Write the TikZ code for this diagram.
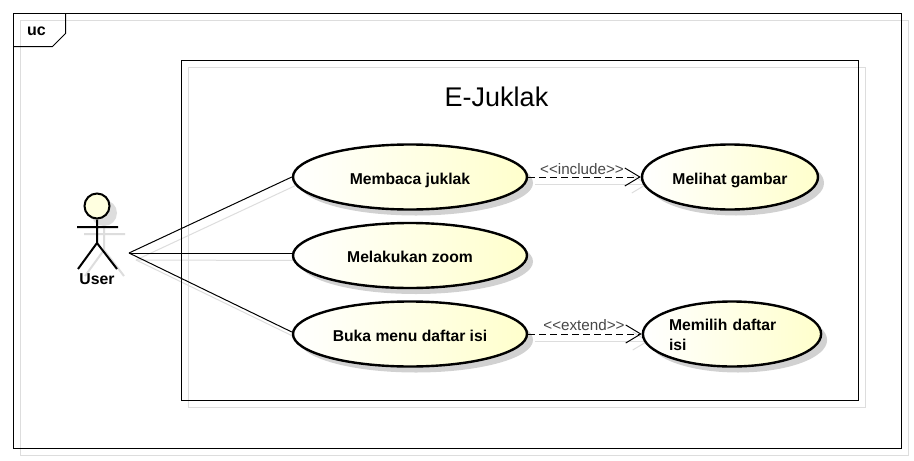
\documentclass[tikz,border=0pt]{standalone}
\usepackage{fontspec}
\setmainfont{Liberation Sans}
\usetikzlibrary{shapes.geometric,shadows,arrows.meta,backgrounds}
\definecolor{ucyellow}{HTML}{FFFFCC}
\definecolor{shadowgray}{HTML}{DDDDDD}
\newcommand{\uclabel}[2][-7.3pt]{\raisebox{#1}[0pt][0pt]{#2}}
\tikzset{
  x=1pt,y=-1pt,
  frameline/.style={draw=black,line width=1pt},
  shadowline/.style={draw=shadowgray,line width=1pt},
  usecase/.style={ellipse,draw=black,line width=2.4pt,minimum width=234pt,minimum height=65pt,
    inner sep=0pt,font=\fontsize{15.7}{20}\selectfont\bfseries,
    left color=white,right color=ucyellow,
    general shadow={shadow xshift=6pt,shadow yshift=-6pt,fill=black,opacity=.18}},
  stereo/.style={font=\fontsize{15.2}{16}\selectfont,text=black!72,inner sep=0pt},
  assoc/.style={draw=black,line width=1pt},
  depend/.style={draw=black,line width=1pt,dash pattern=on 7pt off 4pt,
    -{Straight Barb[length=15pt,width=18pt,line width=1pt]}},
  depshadow/.style={draw=shadowgray,line width=1pt,-{Straight Barb[length=15pt,width=18pt,line width=1pt]}},
  actorline/.style={draw=black,line width=2pt},
  actorshadow/.style={draw=shadowgray,line width=2pt},
}
\begin{document}
\begin{tikzpicture}
\useasboundingbox (0,0) rectangle (914,461);
\begin{scope}[on background layer]
\fill[white] (0,0) rectangle (914,461);
\end{scope}
% frames shadows
\draw[shadowline] (20.5,20.5) rectangle (908.5,455.5);
\draw[shadowline] (188.5,67.5) rectangle (865.5,407.5);
% connector anchors
\coordinate (src) at (129,253);
\node[usecase] (mj) at (410,177) {\uclabel{Membaca juklak}};
\node[usecase] (mz) at (410,255.5) {\uclabel{Melakukan zoom}};
\node[usecase] (bm) at (410,334) {\uclabel{Buka menu daftar isi}};
\node[usecase,minimum width=176pt] (mg) at (730,177) {\uclabel{Melihat gambar}};
\node[usecase,minimum width=178pt,text width=126pt,align=left] (md) at (732,334) {\uclabel[-6pt]{Memilih daftar}\\\uclabel[-6pt]{isi}};
% connector shadows
\begin{scope}[on background layer]
\draw[shadowline] ([shift={(7,7)}]src) -- ([shift={(7,7)}]mj.west);
\draw[shadowline] ([shift={(7,7)}]src) -- ([shift={(7,5)}]mz.west);
\draw[shadowline] ([shift={(7,7)}]src) -- ([shift={(7,5)}]bm.west);
\draw[depshadow] ([shift={(7,7)}]mj.east) -- ([shift={(7,7)}]mg.west);
\draw[depshadow] ([shift={(7,7)}]bm.east) -- ([shift={(7,7)}]md.west);
\end{scope}
% frames
\draw[frameline] (13.5,13.5) rectangle (901.5,448.5);
\draw[frameline] (181.5,60.5) rectangle (858.5,400.5);
\draw[frameline] (13.5,46.5) -- (52.5,46.5) -- (65.5,33.5) -- (65.5,13.5);
\node[font=\fontsize{16}{16}\selectfont\bfseries,inner sep=0pt] (uc) at (36.5,31) {uc};
\node[font=\fontsize{27}{27}\selectfont,inner sep=0pt] (title) at (496.5,97) {E-Juklak};
% connectors
\draw[assoc] (src) -- (mj.west);
\draw[assoc] (src) -- (src -| mz.west);
\draw[assoc] (src) -- ([yshift=2pt]bm.west);
\draw[depend] (mj.east) -- (mg.west);
\draw[depend] (bm.east) -- (md.west);
\node[stereo] (inc) at (582,169) {<{}<include>{}>};
\node[stereo] (ext) at (584,325) {<{}<extend>{}>};
% actor
\coordinate (neck) at (97,218);
\coordinate (hip) at (97,243);
\coordinate (armL) at (77,227);
\coordinate (armR) at (118,227);
\coordinate (legL) at (78,269);
\coordinate (legR) at (117,269);
\fill[shadowgray] (104,213) circle[radius=13];
\draw[actorshadow] ([shift={(7,7)}]neck) -- ([shift={(7,7)}]hip) ([shift={(7,7)}]armL) -- ([shift={(7,7)}]armR) ([shift={(7,7)}]legL) -- ([shift={(7,7)}]hip) -- ([shift={(7,7)}]legR);
\node[circle,draw=black,line width=2pt,minimum size=25pt,inner sep=0pt,fill=ucyellow!60] (head) at (97,206) {};
\draw[actorline] (head.south) -- (hip) (armL) -- (armR) (legL) -- (hip) -- (legR);
\node[font=\fontsize{15.8}{16}\selectfont\bfseries,inner sep=0pt] (user) at (97,279) {User};
\end{tikzpicture}
\end{document}
